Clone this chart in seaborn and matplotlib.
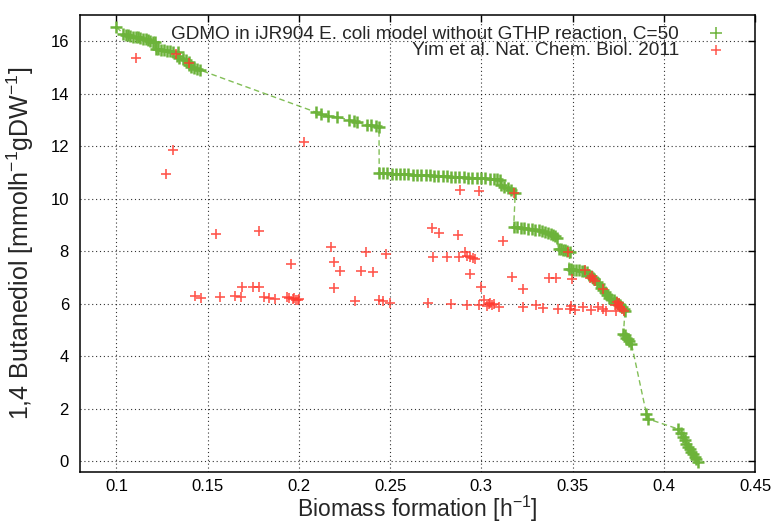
import numpy as np
import pandas as pd
import matplotlib
matplotlib.use("Agg")
import matplotlib.pyplot as plt
import seaborn as sns

# ---------------- data ----------------
gdmo_label = "GDMO in iJR904 E. coli model without GTHP reaction, C=50"
yim_label = "Yim et al. Nat. Chem. Biol. 2011"

gdmo_x = [0.1000,
          0.1037, 0.1050, 0.1062, 0.1075, 0.1090, 0.1105, 0.1118, 0.1130, 0.1145, 0.1160, 0.1172, 0.1185, 0.1198, 0.1210,
          0.1215, 0.1230, 0.1245, 0.1260, 0.1275, 0.1292, 0.1310, 0.1335,
          0.1330, 0.1345, 0.1362, 0.1380, 0.1400,
          0.1395, 0.1410, 0.1425, 0.1442, 0.1460,
          0.2093, 0.2120, 0.2157, 0.2211, 0.2275, 0.2302, 0.2321, 0.2375, 0.2393, 0.2421, 0.2439,
          0.2440, 0.2462, 0.2485, 0.2508, 0.2530, 0.2555, 0.2578, 0.2600, 0.2625, 0.2648, 0.2670, 0.2695, 0.2718,
          0.2740, 0.2765, 0.2788, 0.2810, 0.2835, 0.2858, 0.2880, 0.2905, 0.2928, 0.2950, 0.2975, 0.2998, 0.3020,
          0.3045, 0.3068, 0.3088, 0.3104,
          0.3108, 0.3125, 0.3145, 0.3165, 0.3186,
          0.3177, 0.3195, 0.3215, 0.3235, 0.3255, 0.3275, 0.3295, 0.3315, 0.3332, 0.3350, 0.3365, 0.3380, 0.3395, 0.3405, 0.3413,
          0.3423, 0.3435, 0.3448, 0.3460, 0.3472, 0.3486,
          0.3478, 0.3490, 0.3505, 0.3520, 0.3535, 0.3550, 0.3565, 0.3578, 0.3590, 0.3600, 0.3610, 0.3620, 0.3632,
          0.3645, 0.3655, 0.3665, 0.3678, 0.3690, 0.3700, 0.3712, 0.3725, 0.3738, 0.3750, 0.3760, 0.3770, 0.3780, 0.3787,
          0.3779, 0.3787, 0.3795, 0.3803, 0.3812, 0.3823,
          0.3905, 0.3914,
          0.4078, 0.4092, 0.4106, 0.4115, 0.4124, 0.4133, 0.4142, 0.4151, 0.4160, 0.4170, 0.4179, 0.4188]
gdmo_y = [16.54,
          16.29, 16.24, 16.22, 16.20, 16.18, 16.16, 16.15, 16.12, 16.10, 16.08, 16.05, 16.02, 15.99, 15.96,
          15.72, 15.70, 15.68, 15.66, 15.64, 15.62, 15.60, 15.58,
          15.42, 15.38, 15.33, 15.28, 15.22,
          15.08, 15.03, 14.98, 14.94, 14.90,
          13.30, 13.24, 13.17, 13.11, 13.01, 12.96, 12.92, 12.83, 12.82, 12.79, 12.75,
          10.99, 10.98, 10.97, 10.96, 10.96, 10.95, 10.94, 10.93, 10.92, 10.91, 10.91, 10.90, 10.89,
          10.88, 10.87, 10.86, 10.86, 10.85, 10.84, 10.83, 10.82, 10.81, 10.80, 10.80, 10.79, 10.78,
          10.77, 10.76, 10.75, 10.73,
          10.51, 10.47, 10.41, 10.33, 10.24,
          8.92, 8.91, 8.90, 8.88, 8.86, 8.84, 8.82, 8.80, 8.77, 8.73, 8.70, 8.66, 8.61, 8.57, 8.52,
          8.10, 8.08, 8.06, 8.04, 8.01, 7.97,
          7.33, 7.32, 7.31, 7.30, 7.29, 7.27, 7.25, 7.23, 7.10, 7.05, 7.00, 6.93, 6.84,
          6.74, 6.62, 6.54, 6.45, 6.33, 6.24, 6.19, 6.14, 6.08, 6.01, 5.95, 5.88, 5.80, 5.74,
          4.86, 4.80, 4.72, 4.65, 4.57, 4.48,
          1.81, 1.62,
          1.24, 1.08, 0.92, 0.80, 0.67, 0.57, 0.48, 0.38, 0.29, 0.19, 0.10, -0.03]

yim_x = [0.1109, 0.1328, 0.1395, 0.1310, 0.1270, 0.2026,
         0.1546, 0.1780, 0.2175, 0.2366, 0.1956, 0.2190, 0.2226, 0.2339, 0.2408, 0.2190, 0.1689, 0.1747, 0.1780,
         0.1428, 0.1461, 0.1570, 0.1650, 0.1683, 0.1807, 0.1834, 0.1869, 0.1934, 0.1947, 0.1966, 0.1984, 0.2002,
         0.1975, 0.1995,
         0.2306, 0.2439, 0.2475, 0.2463, 0.2499,
         0.2885, 0.2985, 0.3177,
         0.2727, 0.2770, 0.2873, 0.3119, 0.2913, 0.2736, 0.2809, 0.2876, 0.2921, 0.2936, 0.2954, 0.2967, 0.2936,
         0.2998, 0.3168, 0.3228, 0.3369, 0.3410, 0.3496, 0.3477, 0.3568, 0.3614, 0.3596, 0.3669, 0.3623, 0.3605,
         0.2708, 0.2831, 0.2922, 0.2985, 0.3016, 0.3040, 0.3058, 0.3071, 0.3095, 0.3030, 0.3050,
         0.3228, 0.3301, 0.3340, 0.3419, 0.3486, 0.3492, 0.3514, 0.3559, 0.3599, 0.3641, 0.3669, 0.3683, 0.3738,
         0.3742, 0.3760, 0.3784, 0.3751, 0.3732, 0.3770, 0.3755]
yim_y = [15.37, 15.52, 15.18, 11.87, 10.93, 12.16,
         8.67, 8.77, 8.16, 7.99, 7.52, 7.59, 7.27, 7.27, 7.20, 6.61, 6.63, 6.66, 6.63,
         6.29, 6.23, 6.25, 6.29, 6.25, 6.28, 6.23, 6.19, 6.28, 6.23, 6.19, 6.15, 6.19,
         6.22, 6.13,
         6.10, 6.15, 7.90, 6.10, 6.02,
         10.34, 10.29, 10.23,
         8.88, 8.69, 8.64, 8.39, 7.97, 7.80, 7.78, 7.78, 7.84, 7.78, 7.74, 7.71, 7.12,
         6.63, 7.01, 6.57, 6.98, 6.98, 6.95, 7.99, 7.30, 6.95, 6.98, 6.57, 6.89, 7.05,
         6.02, 6.00, 5.97, 5.97, 6.13, 6.00, 5.94, 6.00, 5.90, 5.92, 6.05,
         5.87, 5.94, 5.85, 5.82, 5.81, 5.92, 5.77, 5.87, 5.77, 5.90, 5.81, 5.72, 5.74,
         6.06, 5.90, 5.72, 5.94, 5.97, 5.80, 6.02]

x_ticks = [0.1, 0.15, 0.2, 0.25, 0.3, 0.35, 0.4, 0.45]
x_tick_labels = ["0.1", "0.15", "0.2", "0.25", "0.3", "0.35", "0.4", "0.45"]
y_ticks = [0, 2, 4, 6, 8, 10, 12, 14, 16]

GREEN = "#6cb33a"
RED = "#ff3b30"

# ---------------- plot ----------------
sns.set_style("white")
plt.rcParams["font.family"] = ["Liberation Sans", "DejaVu Sans"]
plt.rcParams["mathtext.fontset"] = "custom"
plt.rcParams["mathtext.rm"] = "Liberation Sans"
plt.rcParams["mathtext.it"] = "Liberation Sans"

fig = plt.figure(figsize=(7.75, 5.25), dpi=100)
ax = fig.add_axes([80 / 775, 1 - 472 / 525, (755 - 80) / 775, (472 - 15) / 525])

gdmo = pd.DataFrame({"x": gdmo_x, "y": gdmo_y})
yim = pd.DataFrame({"x": yim_x, "y": yim_y})

sns.lineplot(data=gdmo, x="x", y="y", sort=False, estimator=None, ax=ax,
             color=GREEN, lw=1.0, linestyle=(0, (4, 2.5)), alpha=0.85, zorder=2)
sns.scatterplot(data=gdmo, x="x", y="y", ax=ax, marker="+", s=65, color=GREEN,
                linewidth=1.8, zorder=3, label=gdmo_label)
sns.scatterplot(data=yim, x="x", y="y", ax=ax, marker="+", s=60, color=RED,
                linewidth=1.2, alpha=0.85, zorder=4, label=yim_label)

ax.set_xlim(0.08, 0.45)
ax.set_ylim(-0.4, 17)
ax.set_xticks(x_ticks)
ax.set_xticklabels(x_tick_labels)
ax.set_yticks(y_ticks)

ax.grid(True, color="black", linestyle=(0, (1, 2.5)), linewidth=0.8, alpha=0.8)
ax.set_axisbelow(True)
for s in ax.spines.values():
    s.set_color("black")
    s.set_linewidth(1.1)

ax.tick_params(direction="in", top=True, right=True, length=5, width=1.0,
               colors="black", pad=8)
ax.tick_params(axis="x", pad=5)
for lab in ax.get_xticklabels() + ax.get_yticklabels():
    lab.set_fontsize(12)

ax.set_xlabel("Biomass formation [h$^{-1}$]", fontsize=16.5, labelpad=0)
ax.set_ylabel("1,4 Butanediol [mmolh$^{-1}$gDW$^{-1}$]", fontsize=18, labelpad=10)

leg = ax.legend(loc="upper right", bbox_to_anchor=(0.9805, 1.003), frameon=False,
                markerfirst=False, fontsize=13.7, labelspacing=-0.06,
                handlelength=1.5, handletextpad=1.2, borderaxespad=0.2)
for h in leg.legend_handles:
    h.set_linewidth(1.1)

fig.savefig("out.png", dpi=100)
